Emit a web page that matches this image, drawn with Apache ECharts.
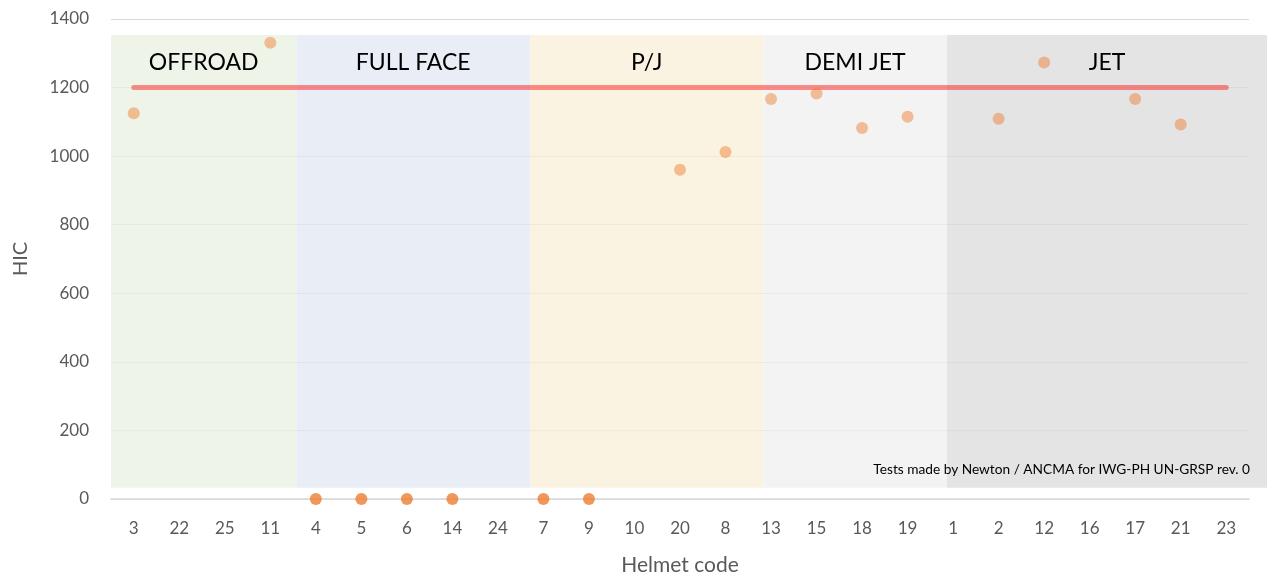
<!DOCTYPE html>
<html>
<head>
<meta charset="utf-8">
<script src="https://cdn.jsdelivr.net/npm/echarts@6/dist/echarts.min.js"></script>
<style>
  html, body { margin: 0; padding: 0; background: #fff; }
  #chart { width: 1267px; height: 581px; }
</style>
</head>
<body>
<div id="chart"></div>
<script>
// helmet codes in plotted order
const helmetCodes = ['3', '22', '25', '11', '4', '5', '6', '14', '24', '7', '9', '10', '20', '8',
    '13', '15', '18', '19', '1', '2', '12', '16', '17', '21', '23'];
// HIC per helmet (null = not tested)
const hicValues = [1125, null, null, 1331, 0, 0, 0, 0, null, 0, 0, null, 960, 1012,
    1167, 1183, 1082, 1115, null, 1109, 1273, null, 1167, 1092, null];
const hicLimit = 1200;
const limitFrom = '3';
const limitTo = '23';

// helmet type groups, span in category units
const groupNames = ['OFFROAD', 'FULL FACE', 'P/J', 'DEMI JET', 'JET'];
const groupStart = [0, 4.07, 9.21, 14.33, 18.37];
const groupEnd = [4.07, 9.21, 14.33, 18.37, 25.4];
const groupLow = 33;
const groupHigh = 1353;
const groupColors = ['rgba(234,240,226,0.75)', 'rgba(226,232,243,0.75)', 'rgba(250,239,216,0.75)',
    'rgba(239,239,239,0.75)', 'rgba(219,219,219,0.75)'];

const yTicks = [0, 200, 400, 600, 800, 1000, 1200, 1400];

const fontName = 'Lato';
const gray = '#595959';

let chart = echarts.init(document.getElementById('chart'));

let bandData = groupNames.map((name, i) => [
    { name: name, xAxis: groupStart[i], yAxis: groupLow, itemStyle: { color: groupColors[i] } },
    { xAxis: groupEnd[i], yAxis: groupHigh }
]);

let points = hicValues.map((v) => {
    if (v === null) return '-';
    return {
        value: v,
        itemStyle: { color: v === 0 ? '#ED7D31' : 'rgba(237,125,49,0.6)' }
    };
});

let option = {
    animation: false,
    textStyle: { fontFamily: fontName },
    title: {
        text: 'Tests made by Newton / ANCMA for IWG-PH UN-GRSP rev. 0',
        right: 12,
        top: 458,
        textStyle: { fontSize: 13.7, fontWeight: 'normal', color: '#000', fontFamily: fontName }
    },
    grid: [
        { left: 111, right: 18, top: 19, bottom: 82 },
        // same plot, stretched to the page edge for the group bands
        { left: 111, right: 0, top: 19, bottom: 82 }
    ],
    xAxis: [
        {
            type: 'category',
            gridIndex: 0,
            data: helmetCodes,
            name: 'Helmet code',
            nameLocation: 'middle',
            nameGap: 56,
            nameTextStyle: { fontSize: 21, color: gray },
            axisLine: { show: true, lineStyle: { color: '#D9D9D9', width: 1.5 } },
            axisTick: { show: false },
            axisLabel: { fontSize: 17, color: gray, margin: 21, interval: 0 }
        },
        {
            type: 'value',
            gridIndex: 1,
            min: 0,
            max: 25.4,
            show: false
        }
    ],
    yAxis: [
        {
            type: 'value',
            gridIndex: 0,
            min: 0,
            max: yTicks[yTicks.length - 1],
            interval: 200,
            name: 'HIC',
            nameLocation: 'middle',
            nameGap: 80,
            nameTextStyle: { fontSize: 20, color: gray },
            axisLine: { show: false },
            axisTick: { show: false },
            axisLabel: { fontSize: 17, color: gray, margin: 22, formatter: (v) => String(v) },
            splitLine: { lineStyle: { color: '#D9D9D9', width: 1.2 } }
        },
        {
            type: 'value',
            gridIndex: 1,
            min: 0,
            max: yTicks[yTicks.length - 1],
            show: false
        }
    ],
    series: [
        {
            name: 'groups',
            type: 'line',
            xAxisIndex: 1,
            yAxisIndex: 1,
            data: [],
            z: 1,
            markArea: {
                silent: true,
                label: {
                    show: true,
                    position: 'insideTop',
                    distance: 16,
                    color: '#000',
                    fontSize: 23,
                    fontFamily: fontName
                },
                data: bandData
            }
        },
        {
            name: 'limit',
            type: 'line',
            data: [[limitFrom, hicLimit], [limitTo, hicLimit]],
            showSymbol: false,
            z: 3,
            lineStyle: { color: 'rgba(255,20,20,0.47)', width: 5, cap: 'round' }
        },
        {
            name: 'HIC',
            type: 'scatter',
            data: points,
            symbolSize: 12,
            z: 4
        }
    ]
};

chart.setOption(option);
</script>
</body>
</html>
